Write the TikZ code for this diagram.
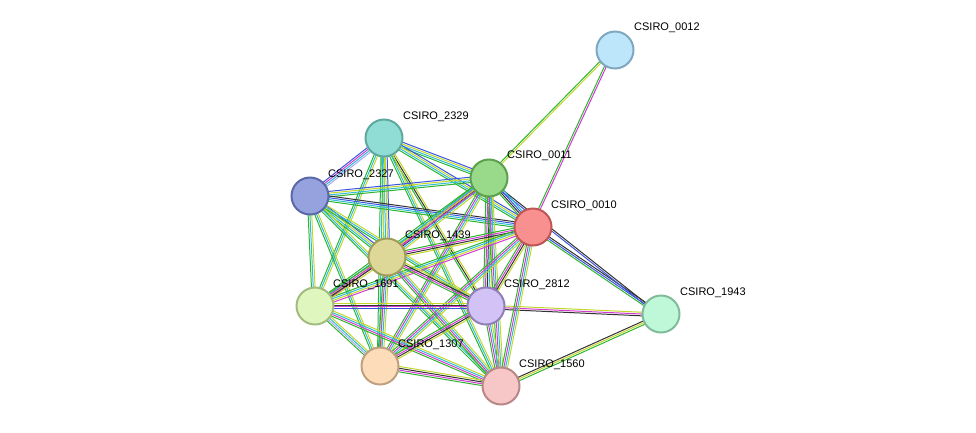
\documentclass[tikz,border=0pt]{standalone}
\usepackage{fontspec}
\setmainfont{Liberation Sans}
\usetikzlibrary{calc}
\definecolor{eg}{HTML}{2DB52D}
\definecolor{ec}{HTML}{2FBCD6}
\definecolor{ey}{HTML}{C3D62A}
\definecolor{eb}{HTML}{3D55E0}
\definecolor{em}{HTML}{D23BD2}
\definecolor{ek}{HTML}{333333}
\definecolor{el}{HTML}{A8A8F0}
\newcommand\edg[3]{\foreach \c [count=\i] in {#3} {\pgfmathsetmacro\o{(\i-2.5)*1.8}
 \draw[draw=\c, line width=1pt] ($(#1)!\o pt!90:(#2)$) -- ($(#2)!\o pt!-90:(#1)$);}}
\tikzset{prot/.style={circle, minimum size=37pt, line width=2pt, inner sep=0},
 lab/.style={font=\fontsize{11}{12}\selectfont, anchor=west, inner sep=1pt}}
\begin{document}
\begin{tikzpicture}[x=1pt,y=-1pt]
\useasboundingbox (0,0) rectangle (976,432);
\coordinate (n0012) at (615,50);
\coordinate (n2329) at (384,138);
\coordinate (n0011) at (489,178);
\coordinate (n2327) at (310,196);
\coordinate (n0010) at (533,227);
\coordinate (n1439) at (387,257);
\coordinate (n1691) at (315,306);
\coordinate (n2812) at (486,306);
\coordinate (n1943) at (661,314);
\coordinate (n1307) at (380,366);
\coordinate (n1560) at (501,386);
% edges
\edg{n0012}{n0011}{eg,ey}
\edg{n0012}{n0010}{eg,em}
\edg{n0010}{n1943}{eg,eb,ek}
\edg{n0011}{n1943}{eb,ek}
\edg{n2812}{n1943}{ek,em,ey}
\edg{n1560}{n1943}{eg,ey,ek}
\edg{n2329}{n2327}{eb,em,ec,el}
\edg{n2329}{n0011}{eg,ec,ey,eb}
\edg{n2329}{n0010}{eg,ec,ey,eb}
\edg{n2329}{n1439}{eg,ec,ey,eb}
\edg{n2329}{n1691}{eg,ec,ey}
\edg{n2329}{n2812}{eg,ek,ey}
\edg{n2329}{n1307}{eg,ec,ey}
\edg{n2329}{n1560}{eg,ec,ey}
\edg{n2327}{n0011}{eg,ec,ey,eb}
\edg{n2327}{n0010}{eg,ec,eb,ek}
\edg{n2327}{n1439}{eg,ec,ey,eb}
\edg{n2327}{n1691}{eg,ec,ey}
\edg{n2327}{n2812}{eg,ec,ey}
\edg{n2327}{n1307}{eg,ec,ey}
\edg{n2327}{n1560}{eg,ec,ey}
\edg{n0011}{n0010}{eg,ek,eb,ec}
\edg{n0011}{n1439}{eg,em,ek,ec,ey}
\edg{n0011}{n1691}{eg,ec,ey,em}
\edg{n0011}{n2812}{eg,em,ek,ec,ey}
\edg{n0011}{n1307}{eg,em,ec,ey}
\edg{n0011}{n1560}{eg,em,ec,ey}
\edg{n0010}{n1439}{eg,em,ek,ey}
\edg{n0010}{n1691}{eg,ec,ey,em}
\edg{n0010}{n2812}{eg,em,ek,ey}
\edg{n0010}{n1307}{eg,em,ec,ey}
\edg{n0010}{n1560}{eg,em,ec,ey}
\edg{n1439}{n1691}{eg,em,ek,ey}
\edg{n1439}{n2812}{eg,em,ek,ey}
\edg{n1439}{n1307}{eg,em,ec,ey}
\edg{n1439}{n1560}{eg,em,ec,ey}
\edg{n1691}{n2812}{eb,em,ek,ey}
\edg{n1691}{n1307}{eg,el,ec,ey}
\edg{n1691}{n1560}{eg,em,ec,ey}
\edg{n2812}{n1307}{eg,em,ek,ey}
\edg{n2812}{n1560}{eg,em,ec,ey}
\edg{n1307}{n1560}{eg,em,ek,ey}
% nodes
\node[prot, fill={rgb,255:red,189;green,230;blue,250}, draw={rgb,255:red,127;green,168;blue,192}] (p0012) at (n0012) {};
\node[prot, fill={rgb,255:red,143;green,221;blue,212}, draw={rgb,255:red,95;green,168;blue,159}] (p2329) at (n2329) {};
\node[prot, fill={rgb,255:red,153;green,217;blue,138}, draw={rgb,255:red,91;green,160;blue,77}] (p0011) at (n0011) {};
\node[prot, fill={rgb,255:red,150;green,162;blue,222}, draw={rgb,255:red,91;green,104;blue,168}] (p2327) at (n2327) {};
\node[prot, fill={rgb,255:red,249;green,144;blue,144}, draw={rgb,255:red,192;green,85;blue,85}] (p0010) at (n0010) {};
\node[prot, fill={rgb,255:red,221;green,216;blue,152}, draw={rgb,255:red,160;green,156;blue,90}] (p1439) at (n1439) {};
\node[prot, fill={rgb,255:red,223;green,247;blue,190}, draw={rgb,255:red,163;green,187;blue,128}] (p1691) at (n1691) {};
\node[prot, fill={rgb,255:red,210;green,194;blue,245}, draw={rgb,255:red,144;green,128;blue,184}] (p2812) at (n2812) {};
\node[prot, fill={rgb,255:red,191;green,248;blue,216}, draw={rgb,255:red,128;green,187;blue,154}] (p1943) at (n1943) {};
\node[prot, fill={rgb,255:red,253;green,220;blue,186}, draw={rgb,255:red,191;green,160;blue,126}] (p1307) at (n1307) {};
\node[prot, fill={rgb,255:red,247;green,198;blue,198}, draw={rgb,255:red,184;green,136;blue,136}] (p1560) at (n1560) {};
% labels
\node[lab] (l0012) at ($(n0012)+(18,-22)$) {CSIRO\_0012};
\node[lab] (l2329) at ($(n2329)+(18,-21)$) {CSIRO\_2329};
\node[lab] (l0011) at ($(n0011)+(17,-22)$) {CSIRO\_0011};
\node[lab] (l2327) at ($(n2327)+(17,-21)$) {CSIRO\_2327};
\node[lab] (l0010) at ($(n0010)+(17,-21)$) {CSIRO\_0010};
\node[lab] (l1439) at ($(n1439)+(17,-21)$) {CSIRO\_1439};
\node[lab] (l1691) at ($(n1691)+(17,-21)$) {CSIRO\_1691};
\node[lab] (l2812) at ($(n2812)+(17,-21)$) {CSIRO\_2812};
\node[lab] (l1943) at ($(n1943)+(18,-21)$) {CSIRO\_1943};
\node[lab] (l1307) at ($(n1307)+(17,-21)$) {CSIRO\_1307};
\node[lab] (l1560) at ($(n1560)+(17,-21)$) {CSIRO\_1560};
\end{tikzpicture}
\end{document}
